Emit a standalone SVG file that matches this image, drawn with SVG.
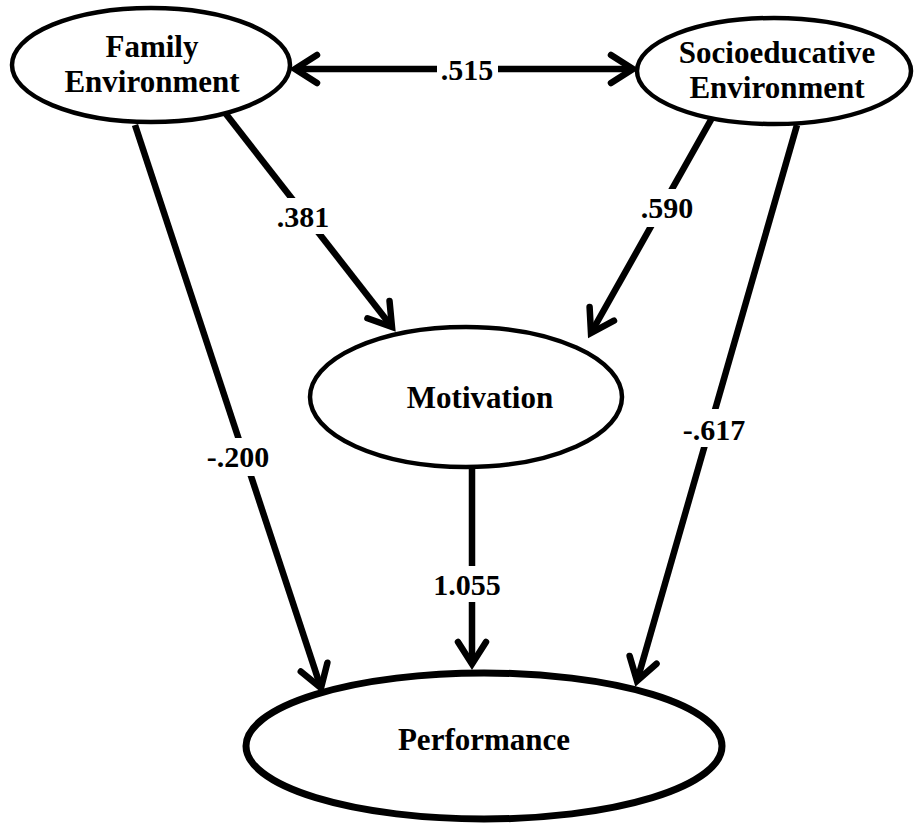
<svg xmlns="http://www.w3.org/2000/svg" width="917" height="823" viewBox="0 0 917 823">
<defs>
<style>
.node{fill:#fff;stroke:#000;stroke-width:4.5}
.big{stroke-width:7}
.t{font-family:"Liberation Serif","Times New Roman",serif;font-weight:bold;font-size:31px;fill:#000;text-anchor:middle}
.lbl{font-family:"Liberation Serif","Times New Roman",serif;font-weight:bold;font-size:30px;fill:#000;text-anchor:middle}
.c{stroke:#000;stroke-width:6.5;fill:none}
.bg{fill:#fff}
</style>
<marker id="ah" markerUnits="userSpaceOnUse" markerWidth="44" markerHeight="44" viewBox="-32 -22 44 44" refX="0" refY="0" orient="auto-start-reverse">
<path d="M-22,-14 L0,0 L-22,14" fill="none" stroke="#000" stroke-width="6.5" stroke-linejoin="miter" stroke-linecap="round"/>
</marker>
</defs>
<rect width="917" height="823" fill="#fff"/>
<g id="connectors">
<line class="c" x1="295" y1="69" x2="633" y2="69" marker-start="url(#ah)" marker-end="url(#ah)"/>
<line class="c" x1="226" y1="114" x2="392" y2="327" marker-end="url(#ah)"/>
<line class="c" x1="712" y1="118" x2="591" y2="333" marker-end="url(#ah)"/>
<line class="c" x1="135" y1="125" x2="321" y2="688" marker-end="url(#ah)"/>
<line class="c" x1="797" y1="125" x2="637" y2="681" marker-end="url(#ah)"/>
<line class="c" x1="472" y1="468" x2="472" y2="664" marker-end="url(#ah)"/>
<rect class="bg" x="437" y="52" width="61" height="34"/>
<rect class="bg" x="272" y="198" width="62" height="36"/>
<rect class="bg" x="636" y="189" width="62" height="38"/>
<rect class="bg" x="202" y="438" width="73" height="38"/>
<rect class="bg" x="679" y="409" width="71" height="38"/>
<rect class="bg" x="430" y="566" width="75" height="36"/>
<text class="lbl" x="467" y="80">.515</text>
<text class="lbl" x="303" y="227">.381</text>
<text class="lbl" x="667" y="218">.590</text>
<text class="lbl" x="238" y="467">-.200</text>
<text class="lbl" x="714" y="440">-.617</text>
<text class="lbl" x="467" y="595">1.055</text>
</g>
<g id="family">
<ellipse class="node" cx="151" cy="65" rx="139" ry="57"/>
<text class="t" x="152" y="57">Family</text>
<text class="t" x="152" y="92">Environment</text>
</g>
<g id="socio">
<ellipse class="node" cx="774" cy="71" rx="137" ry="53"/>
<text class="t" x="777" y="63">Socioeducative</text>
<text class="t" x="777" y="98">Environment</text>
</g>
<g id="motivation">
<ellipse class="node" cx="466" cy="397" rx="156" ry="70"/>
<text class="t" x="480" y="408">Motivation</text>
</g>
<g id="performance">
<ellipse class="node big" cx="484" cy="746" rx="238" ry="73"/>
<text class="t" x="484" y="750">Performance</text>
</g>
</svg>
